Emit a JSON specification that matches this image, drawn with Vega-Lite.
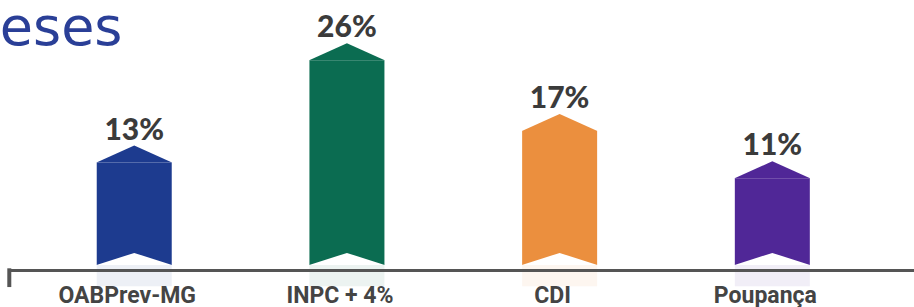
{
  "$schema": "https://vega.github.io/schema/vega-lite/v6.json",
  "width": 906,
  "height": 270,
  "autosize": {"type": "none"},
  "padding": {"left": 8, "top": 0, "right": 0, "bottom": 37},
  "background": "white",
  "config": {"view": {"stroke": null}},
  "data": {"values": [
    {"cat": "OABPrev-MG", "value": 13, "label": "13%"},
    {"cat": "INPC + 4%", "value": 26, "label": "26%"},
    {"cat": "CDI", "value": 17, "label": "17%"},
    {"cat": "Poupança", "value": 11, "label": "11%"}
  ]},
  "encoding": {
    "x": {"field": "cat", "type": "nominal", "sort": null,
      "scale": {"paddingInner": 0.6474, "paddingOuter": 0.4535, "align": 0.46},
      "axis": {"title": null, "ticks": false, "tickSize": 0, "grid": false, "labelAngle": 0, "labelFont": "Roboto", "labelFontSize": 23, "labelFontWeight": "bold", "labelColor": "#444444", "labelBaseline": "alphabetic", "labelPadding": 32, "labelOffset": -7, "domainColor": "#555555", "domainWidth": 3, "zindex": 1, "labelOverlap": false, "labelFlush": false}}
  },
  "layer": [
    {
      "mark": {"type": "bar", "opacity": 0.08},
      "encoding": {
        "y": {"datum": 0, "type": "quantitative", "scale": {"domain": [-0.635, 33.64], "nice": false, "zero": false}, "axis": null},
        "y2": {"datum": -2.7},
        "color": {"field": "cat", "type": "nominal", "scale": {"domain": ["OABPrev-MG", "INPC + 4%", "CDI", "Poupança"], "range": ["#1d3b8f", "#0b6c51", "#eb8f3e", "#502797"]}, "legend": null}
      }
    },
    {
      "mark": {"type": "bar"},
      "encoding": {
        "y": {"field": "value", "type": "quantitative", "scale": {"domain": [-0.635, 33.64], "nice": false, "zero": false}, "axis": null},
        "y2": {"datum": 0},
        "color": {"field": "cat", "type": "nominal", "legend": null}
      }
    },
    {
      "mark": {"type": "point", "filled": true, "opacity": 1, "strokeWidth": 0, "size": 5700, "shape": "M-1,0L0,-0.45L1,0Z"},
      "encoding": {
        "y": {"field": "value", "type": "quantitative", "axis": null},
        "color": {"field": "cat", "type": "nominal", "legend": null}
      }
    },
    {
      "mark": {"type": "point", "filled": true, "opacity": 1, "strokeWidth": 0, "size": 5700, "shape": "M-1,0L0,-0.32L1,0Z"},
      "encoding": {
        "y": {"datum": 0, "type": "quantitative", "axis": null},
        "color": {"value": "white"}
      }
    },
    {
      "mark": {"type": "text", "font": "Lato", "fontWeight": 900, "fontSize": 30, "color": "#3b3b3b", "baseline": "alphabetic", "dy": -23},
      "encoding": {
        "y": {"field": "value", "type": "quantitative", "axis": null},
        "text": {"field": "label"}
      }
    },
    {
      "data": {"values": [{"mark": "end"}]},
      "mark": {"type": "rule", "color": "#555555", "strokeWidth": 4},
      "encoding": {
        "x": {"datum": "OABPrev-MG", "type": "nominal", "bandPosition": -1.166},
        "y": {"datum": -0.42, "type": "quantitative", "axis": null},
        "y2": {"datum": -2.8}
      }
    },
    {
      "data": {"values": [{"title": "eses"}]},
      "mark": {"type": "text", "font": "DejaVu Sans", "fontSize": 54, "color": "#2a3f97", "align": "left", "baseline": "alphabetic"},
      "encoding": {
        "x": {"datum": "OABPrev-MG", "type": "nominal", "bandPosition": -1.293},
        "y": {"datum": 27.93, "type": "quantitative", "axis": null},
        "text": {"field": "title"}
      }
    }
  ]
}
